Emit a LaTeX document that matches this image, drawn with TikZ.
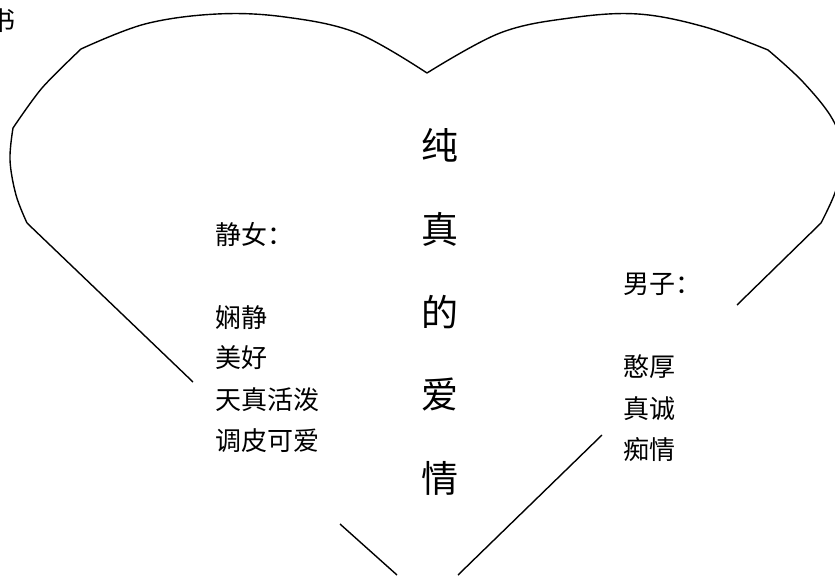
\documentclass[tikz,border=0pt]{standalone}
\usepackage{fontspec}
\newfontfamily\cjk{Noto Sans CJK SC}
\begin{document}
\begin{tikzpicture}[x=1pt,y=-1pt,
  heart/.style={line width=1.4pt,line join=round},
  small/.style={inner sep=0pt,anchor=west,font=\cjk\fontsize{26}{26}\selectfont},
  big/.style={inner sep=0pt,anchor=center,font=\cjk\fontsize{37}{37}\selectfont}]
\useasboundingbox (0,0) rectangle (835,578);
% heart outline
\draw[heart] (193,382) -- (27,223);
\draw[heart] plot[smooth,tension=0.6] coordinates {(27,223) (16,195) (10,160) (13,128)};
\draw[heart] plot[smooth,tension=0.5] coordinates {(13,128) (42,88) (81,49)};
\draw[heart] plot[smooth,tension=0.6] coordinates {(81,49) (145,24) (217,14) (285,17) (357,33) (427,73)};
\draw[heart] plot[smooth,tension=0.6] coordinates {(427,73) (500,33) (570,18) (638,14) (705,27) (768,50)};
\draw[heart] plot[smooth,tension=0.6] coordinates {(768,50) (803,82) (833,120) (843,155) (836,190) (821,223)};
\draw[heart] (821,223) -- (737,305);
\draw[heart] (340,524) -- (397,575);
\draw[heart] (458,575) -- (602,435);
% corner text
\node[small,anchor=center] (shu) at (3,21) {书};
% centre column
\node[big] (c1) at (440,145) {纯};
\node[big] (c2) at (440,229) {真};
\node[big] (c3) at (440,312) {的};
\node[big] (c4) at (440,395) {爱};
\node[big] (c5) at (440,478) {情};
% left column
\node[small] (l0) at (215,234) {静女：};
\node[small] (l1) at (215,318) {娴静};
\node[small] (l2) at (215,358) {美好};
\node[small] (l3) at (215,400) {天真活泼};
\node[small] (l4) at (215,441) {调皮可爱};
% right column
\node[small] (r0) at (623,284) {男子：};
\node[small] (r1) at (623,367) {憨厚};
\node[small] (r2) at (623,409) {真诚};
\node[small] (r3) at (623,450) {痴情};
\end{tikzpicture}
\end{document}
